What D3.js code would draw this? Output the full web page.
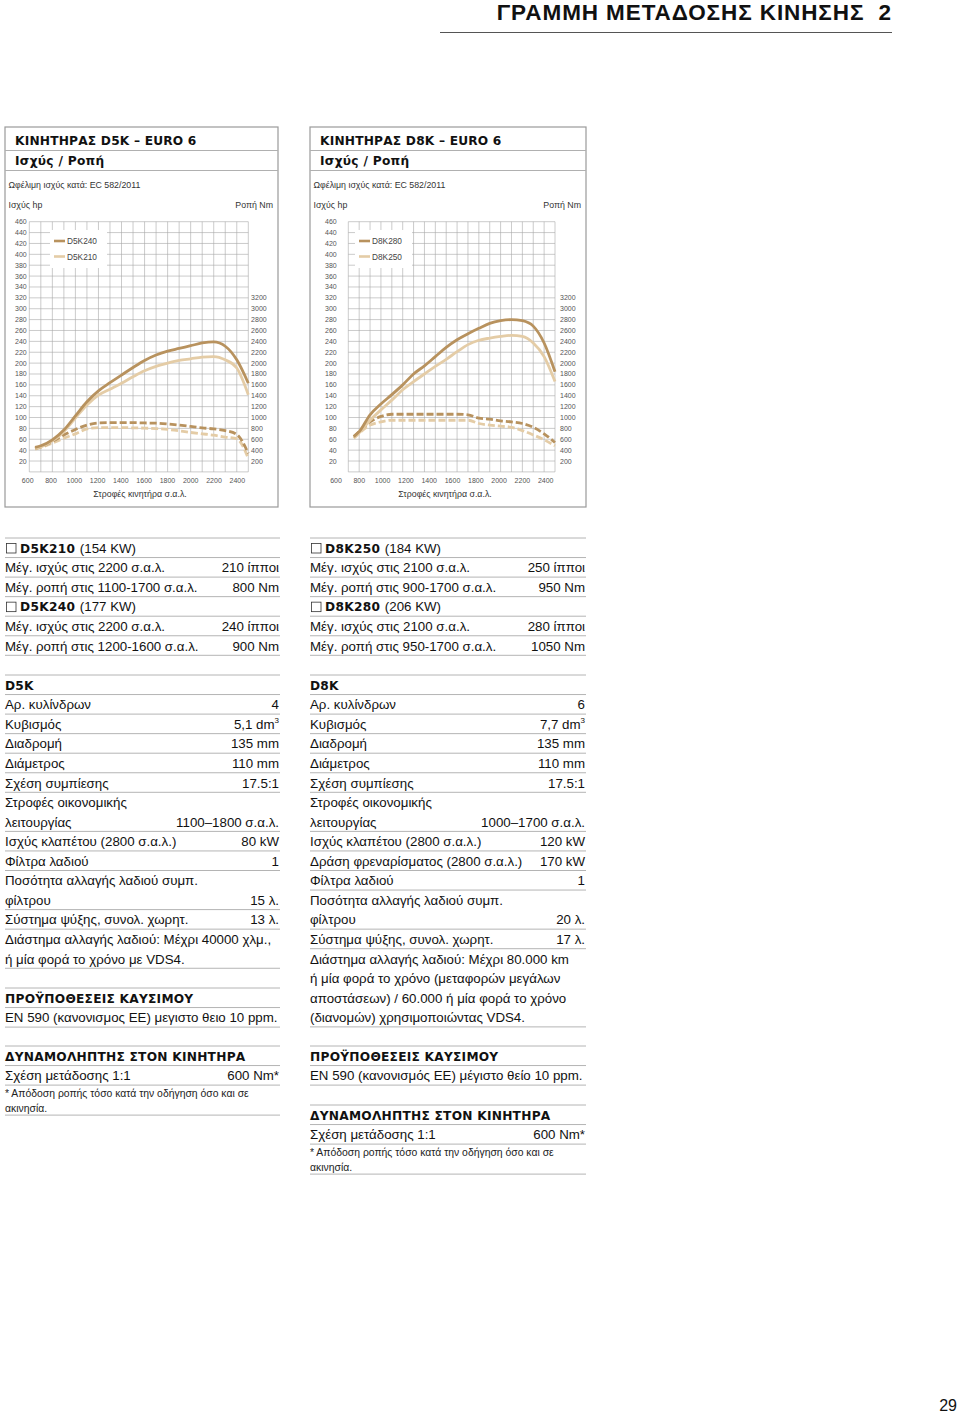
<!DOCTYPE html>
<html>
<head>
<meta charset="utf-8">
<script src="https://cdn.jsdelivr.net/npm/d3@7"></script>
<style>
body { margin: 0; background: #fff; }
svg { display: block; }
</style>
</head>
<body>
<script>
// rpm points
const rpm = [650, 700, 800, 900, 1000, 1100, 1200, 1300, 1400, 1500, 1600, 1700, 1800, 1900, 2000, 2100, 2200, 2300, 2400, 2500];

// D5K power (hp) and torque (Nm)
const d5k240Power = [45, 48, 59, 77, 103, 129, 149, 164, 178, 192, 205, 215, 222, 227, 232, 237, 239, 231, 206, 163];
const d5k210Power = [43, 46, 57, 74, 99, 123, 141, 152, 163, 175, 186, 194, 200, 205, 208, 211, 212, 206, 191, 142];
const d5k240Torque = [430, 460, 560, 680, 780, 860, 900, 905, 905, 905, 900, 895, 880, 860, 835, 810, 790, 760, 690, 340];
const d5k210Torque = [420, 450, 530, 620, 700, 790, 815, 815, 815, 810, 805, 795, 780, 755, 725, 700, 675, 640, 610, 250];

// D8K power (hp) and torque (Nm)
const d8k280Power = [65, 74, 105, 125, 142, 160, 180, 195, 212, 229, 243, 254, 264, 273, 278, 280, 278, 268, 237, 184];
const d8k250Power = [63, 72, 95, 114, 132, 151, 166, 180, 194, 207, 221, 234, 242, 246, 249, 251, 249, 237, 212, 166];
const d8k280Torque = [650, 740, 920, 1020, 1060, 1060, 1060, 1060, 1060, 1060, 1060, 1050, 990, 970, 940, 920, 890, 820, 700, 540];
const d8k250Torque = [620, 710, 860, 920, 950, 950, 950, 950, 950, 950, 950, 950, 890, 860, 840, 820, 760, 680, 590, 480];

// tick labels
const hpTicks = d3.range(20, 461, 20);
const nmTicks = d3.range(200, 3201, 200);
const rpmTicks = d3.range(600, 2401, 200);

const dark = '#b8925e';
const light = '#e4cca6';
const grey = '#a8a8a8';
const bodyFont = '"Liberation Sans", Arial, sans-serif';
const headFont = '"DejaVu Sans", sans-serif';

const width = 960, height = 1415;
const svg = d3.select('body').append('svg')
    .attr('width', width)
    .attr('height', height);

// page title
svg.append('text')
    .attr('x', 892).attr('y', 20)
    .attr('text-anchor', 'end')
    .attr('font-family', bodyFont)
    .attr('font-weight', 'bold')
    .attr('font-size', 22.5)
    .attr('letter-spacing', 0.9)
    .style('white-space', 'pre')
    .attr('fill', '#111')
    .text('ΓΡΑΜΜΗ ΜΕΤΑΔΟΣΗΣ ΚΙΝΗΣΗΣ  2');
svg.append('line')
    .attr('x1', 440).attr('x2', 892)
    .attr('y1', 32.5).attr('y2', 32.5)
    .attr('stroke', '#555').attr('stroke-width', 1);

// page number
svg.append('text')
    .attr('x', 957).attr('y', 1411)
    .attr('text-anchor', 'end')
    .attr('font-family', bodyFont)
    .attr('font-size', 16)
    .attr('fill', '#111')
    .text('29');

//draws one engine chart
function drawChart(opt) {
    const g = svg.append('g');
    const bx = opt.box[0], by = 127, bw = opt.box[1], bh = 380;

    g.append('rect')
        .attr('x', bx).attr('y', by)
        .attr('width', bw).attr('height', bh)
        .attr('fill', '#fff')
        .attr('stroke', '#9a9a9a').attr('stroke-width', 1.2);

    g.append('line').attr('x1', bx).attr('x2', bx + bw).attr('y1', 150.5).attr('y2', 150.5)
        .attr('stroke', '#b0b0b0');
    g.append('line').attr('x1', bx).attr('x2', bx + bw).attr('y1', 170.5).attr('y2', 170.5)
        .attr('stroke', '#b0b0b0');

    g.append('text')
        .attr('x', bx + 10).attr('y', 145)
        .attr('font-family', headFont).attr('font-weight', 'bold')
        .attr('font-size', 12.2).attr('letter-spacing', 0.2).attr('fill', '#111')
        .text(opt.title);
    g.append('text')
        .attr('x', bx + 10).attr('y', 165)
        .attr('font-family', headFont).attr('font-weight', 'bold')
        .attr('font-size', 12.2).attr('letter-spacing', 0.3).attr('fill', '#111')
        .text('Ισχύς / Ροπή');
    g.append('text')
        .attr('x', bx + 3.5).attr('y', 188)
        .attr('font-family', bodyFont).attr('font-size', 8.8).attr('fill', '#333')
        .text('Ωφέλιμη ισχύς κατά: EC 582/2011');
    g.append('text')
        .attr('x', bx + 3.5).attr('y', 208)
        .attr('font-family', bodyFont).attr('font-size', 8.8).attr('fill', '#333')
        .text('Ισχύς hp');
    g.append('text')
        .attr('x', bx + bw - 5).attr('y', 208)
        .attr('text-anchor', 'end')
        .attr('font-family', bodyFont).attr('font-size', 8.8).attr('fill', '#333')
        .text('Ροπή Nm');

    const x = d3.scaleLinear().domain([600, 2500]).range(opt.plotX);
    const xLab = d3.scaleLinear().domain([600, 2400]).range(opt.labelX);
    const y = d3.scaleLinear().domain([0, 460]).range([471.9, 221.7]);
    const yNm = d3.scaleLinear().domain([0, 4600]).range([471.9, 221.7]);

    // grid
    g.append('g').selectAll('line')
        .data(d3.range(600, 2501, 100))
        .enter().append('line')
        .attr('x1', d => x(d)).attr('x2', d => x(d))
        .attr('y1', y(0)).attr('y2', y(460))
        .attr('stroke', grey).attr('stroke-width', 0.6);
    g.append('g').selectAll('line')
        .data(d3.range(0, 461, 20))
        .enter().append('line')
        .attr('x1', x(600)).attr('x2', x(2500))
        .attr('y1', d => y(d)).attr('y2', d => y(d))
        .attr('stroke', grey).attr('stroke-width', 0.6);

    // tick labels
    g.append('g').selectAll('text')
        .data(hpTicks)
        .enter().append('text')
        .attr('x', opt.hpLabelX).attr('y', d => y(d) + 2.5)
        .attr('text-anchor', 'end')
        .attr('font-family', bodyFont).attr('font-size', 7).attr('fill', '#555')
        .text(d => d);
    g.append('g').selectAll('text')
        .data(nmTicks)
        .enter().append('text')
        .attr('x', x(2500) + opt.nmGap).attr('y', d => yNm(d) + 2.5)
        .attr('font-family', bodyFont).attr('font-size', 7).attr('fill', '#555')
        .text(d => d);
    g.append('g').selectAll('text')
        .data(rpmTicks)
        .enter().append('text')
        .attr('x', d => xLab(d)).attr('y', 483)
        .attr('text-anchor', 'middle')
        .attr('font-family', bodyFont).attr('font-size', 7).attr('fill', '#555')
        .text(d => d);
    g.append('text')
        .attr('x', opt.axisTitleX).attr('y', 497)
        .attr('text-anchor', 'middle')
        .attr('font-family', bodyFont).attr('font-size', 8.8).attr('fill', '#333')
        .text('Στροφές κινητήρα σ.α.λ.');

    // legend
    const lx = opt.legendX;
    g.append('rect')
        .attr('x', lx).attr('y', 230)
        .attr('width', 57).attr('height', 38)
        .attr('fill', '#fff');
    opt.names.forEach((n, i) => {
        const ly = 241 + i * 15.5;
        g.append('line')
            .attr('x1', lx + 4).attr('x2', lx + 15)
            .attr('y1', ly).attr('y2', ly)
            .attr('stroke', i == 0 ? dark : light).attr('stroke-width', 2.6);
        g.append('text')
            .attr('x', lx + 17).attr('y', ly + 3)
            .attr('font-family', bodyFont).attr('font-size', 8.3).attr('fill', '#444')
            .text(n);
    });

    // curves
    const pLine = d3.line().x((d, i) => x(rpm[i])).y(d => y(d)).curve(d3.curveMonotoneX);
    const tLine = d3.line().x((d, i) => x(rpm[i])).y(d => yNm(d)).curve(d3.curveMonotoneX);

    const series = [
        { v: opt.torque[1], c: light, t: true },
        { v: opt.torque[0], c: dark, t: true },
        { v: opt.power[1], c: light, t: false },
        { v: opt.power[0], c: dark, t: false }
    ];
    g.append('g').selectAll('path')
        .data(series)
        .enter().append('path')
        .attr('d', d => d.t ? tLine(d.v) : pLine(d.v))
        .attr('fill', 'none')
        .attr('stroke', d => d.c)
        .attr('stroke-width', 2.8)
        .attr('stroke-linecap', 'butt')
        .attr('stroke-dasharray', d => d.t ? '7,3' : null);
}

drawChart({
    box: [5, 273],
    title: 'ΚΙΝΗΤΗΡΑΣ D5K – EURO 6',
    plotX: [29.3, 248.3],
    labelX: [27.7, 237.3],
    hpLabelX: 26.7,
    nmGap: 2.8,
    axisTitleX: 140,
    legendX: 50,
    names: ['D5K240', 'D5K210'],
    power: [d5k240Power, d5k210Power],
    torque: [d5k240Torque, d5k210Torque]
});

drawChart({
    box: [310, 276],
    title: 'ΚΙΝΗΤΗΡΑΣ D8K – EURO 6',
    plotX: [348.3, 555],
    labelX: [336, 545.7],
    hpLabelX: 336.7,
    nmGap: 5,
    axisTitleX: 445,
    legendX: 355,
    names: ['D8K280', 'D8K250'],
    power: [d8k280Power, d8k250Power],
    torque: [d8k280Torque, d8k250Torque]
});

// text tables: [label, value, kind, separator below]
const d5kRatings = [
    ['D5K210', '(154 KW)', 'box', true],
    ['Μέγ. ισχύς στις 2200 σ.α.λ.', '210 ίπποι', 'row', true],
    ['Μέγ. ροπή στις 1100-1700 σ.α.λ.', '800 Nm', 'row', true],
    ['D5K240', '(177 KW)', 'box', true],
    ['Μέγ. ισχύς στις 2200 σ.α.λ.', '240 ίπποι', 'row', true],
    ['Μέγ. ροπή στις 1200-1600 σ.α.λ.', '900 Nm', 'row', true]
];
const d8kRatings = [
    ['D8K250', '(184 KW)', 'box', true],
    ['Μέγ. ισχύς στις 2100 σ.α.λ.', '250 ίπποι', 'row', true],
    ['Μέγ. ροπή στις 900-1700 σ.α.λ.', '950 Nm', 'row', true],
    ['D8K280', '(206 KW)', 'box', true],
    ['Μέγ. ισχύς στις 2100 σ.α.λ.', '280 ίπποι', 'row', true],
    ['Μέγ. ροπή στις 950-1700 σ.α.λ.', '1050 Nm', 'row', true]
];
const d5kSpecs = [
    ['D5K', '', 'head', true],
    ['Αρ. κυλίνδρων', '4', 'row', true],
    ['Κυβισμός', '5,1 dm³', 'row', true],
    ['Διαδρομή', '135 mm', 'row', true],
    ['Διάμετρος', '110 mm', 'row', true],
    ['Σχέση συμπίεσης', '17.5:1', 'row', true],
    ['Στροφές οικονομικής', '', 'row', false],
    ['λειτουργίας', '1100–1800 σ.α.λ.', 'row', true],
    ['Ισχύς κλαπέτου (2800 σ.α.λ.)', '80 kW', 'row', true],
    ['Φίλτρα λαδιού', '1', 'row', true],
    ['Ποσότητα αλλαγής λαδιού συμπ.', '', 'row', false],
    ['φίλτρου', '15 λ.', 'row', true],
    ['Σύστημα ψύξης, συνολ. χωρητ.', '13 λ.', 'row', true],
    ['Διάστημα αλλαγής λαδιού: Μέχρι 40000 χλμ.,', '', 'row', false],
    ['ή μία φορά το χρόνο με VDS4.', '', 'row', true]
];
const d8kSpecs = [
    ['D8K', '', 'head', true],
    ['Αρ. κυλίνδρων', '6', 'row', true],
    ['Κυβισμός', '7,7 dm³', 'row', true],
    ['Διαδρομή', '135 mm', 'row', true],
    ['Διάμετρος', '110 mm', 'row', true],
    ['Σχέση συμπίεσης', '17.5:1', 'row', true],
    ['Στροφές οικονομικής', '', 'row', false],
    ['λειτουργίας', '1000–1700 σ.α.λ.', 'row', true],
    ['Ισχύς κλαπέτου (2800 σ.α.λ.)', '120 kW', 'row', true],
    ['Δράση φρεναρίσματος (2800 σ.α.λ.)', '170 kW', 'row', true],
    ['Φίλτρα λαδιού', '1', 'row', true],
    ['Ποσότητα αλλαγής λαδιού συμπ.', '', 'row', false],
    ['φίλτρου', '20 λ.', 'row', true],
    ['Σύστημα ψύξης, συνολ. χωρητ.', '17 λ.', 'row', true],
    ['Διάστημα αλλαγής λαδιού: Μέχρι 80.000 km', '', 'row', false],
    ['ή μία φορά το χρόνο (μεταφορών μεγάλων', '', 'row', false],
    ['αποστάσεων) / 60.000 ή μία φορά το χρόνο', '', 'row', false],
    ['(διανομών) χρησιμοποιώντας VDS4.', '', 'row', true]
];
const fuelLeft = [
    ['ΠΡΟΫΠΟΘΕΣΕΙΣ ΚΑΥΣΙΜΟΥ', '', 'head', true],
    ['EN 590 (κανονισμος ΕΕ) μεγιστο θειο 10 ppm.', '', 'row', true]
];
const fuelRight = [
    ['ΠΡΟΫΠΟΘΕΣΕΙΣ ΚΑΥΣΙΜΟΥ', '', 'head', true],
    ['EN 590 (κανονισμός ΕΕ) μέγιστο θείο 10 ppm.', '', 'row', true]
];
const dyno = [
    ['ΔΥΝΑΜΟΛΗΠΤΗΣ ΣΤΟΝ ΚΙΝΗΤΗΡΑ', '', 'head', true],
    ['Σχέση μετάδοσης 1:1', '600 Nm*', 'row', true],
    ['* Απόδοση ροπής τόσο κατά την οδήγηση όσο και σε', '', 'note', false],
    ['ακινησία.', '', 'note', true]
];

//draws a block of text rows with thin rules
function drawTable(rows, x0, x1, top) {
    const g = svg.append('g');
    const step = 19.55;
    const fs = 13.3;
    g.append('line').attr('x1', x0).attr('x2', x1).attr('y1', top).attr('y2', top)
        .attr('stroke', '#b4b4b4').attr('stroke-width', 1);
    let yy = top;
    rows.forEach(r => {
        const h = r[2] == 'note' ? 15 : step;
        const cy = yy + (r[2] == 'note' ? 8 : 10);
        if (r[2] == 'head') {
            g.append('text')
                .attr('x', x0 + 0) .attr('y', cy + 4.5)
                .attr('font-family', headFont).attr('font-weight', 'bold')
                .attr('font-size', 12.2).attr('letter-spacing', 0.25).attr('fill', '#111')
                .text(r[0]);
        } else if (r[2] == 'box') {
            g.append('rect')
                .attr('x', x0 + 1.5).attr('y', cy - 4.5)
                .attr('width', 9.5).attr('height', 9.5)
                .attr('fill', 'none').attr('stroke', '#333').attr('stroke-width', 0.8);
            const t = g.append('text')
                .attr('x', x0 + 15).attr('y', cy + 4.5)
                .attr('fill', '#111');
            t.append('tspan')
                .attr('font-family', headFont).attr('font-weight', 'bold').attr('font-size', 12.2)
                .attr('letter-spacing', 0.3)
                .text(r[0] + ' ');
            t.append('tspan')
                .attr('font-family', bodyFont).attr('font-size', fs).attr('letter-spacing', 0)
                .text(r[1]);
        } else if (r[2] == 'note') {
            g.append('text')
                .attr('x', x0 + 0) .attr('y', cy + 3.5)
                .attr('font-family', bodyFont).attr('font-size', 10.4).attr('fill', '#222')
                .text(r[0]);
        } else {
            g.append('text')
                .attr('x', x0 + 0) .attr('y', cy + 4.8)
                .attr('font-family', bodyFont).attr('font-size', fs).attr('fill', '#111')
                .text(r[0]);
            if (r[1]) {
                const m = r[1].match(/^(.*)³$/);
                const t = g.append('text')
                    .attr('x', x1 - 1).attr('y', cy + 4.8)
                    .attr('text-anchor', 'end')
                    .attr('font-family', bodyFont).attr('font-size', fs).attr('fill', '#111');
                if (m) {
                    t.append('tspan').text(m[1]);
                    t.append('tspan').attr('font-size', 8).attr('dy', -5.5).text('3');
                } else {
                    t.text(r[1]);
                }
            }
        }
        yy += h;
        if (r[3]) {
            g.append('line').attr('x1', x0).attr('x2', x1).attr('y1', yy).attr('y2', yy)
                .attr('stroke', '#b4b4b4').attr('stroke-width', 1);
        }
    });
}

drawTable(d5kRatings, 5, 280, 538);
drawTable(d8kRatings, 310, 586, 538);
drawTable(d5kSpecs, 5, 280, 675);
drawTable(d8kSpecs, 310, 586, 675);
drawTable(fuelLeft, 5, 280, 988);
drawTable(fuelRight, 310, 586, 1046);
drawTable(dyno, 5, 280, 1046);
drawTable(dyno, 310, 586, 1105);
</script>
</body>
</html>
